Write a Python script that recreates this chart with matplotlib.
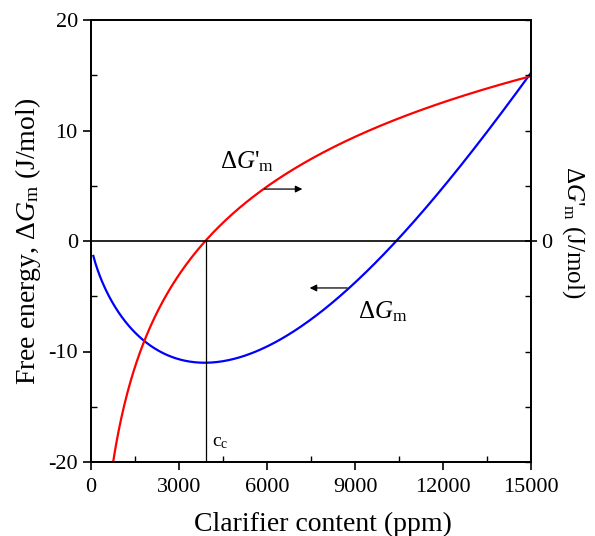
import numpy as np
import matplotlib
matplotlib.use('Agg')
import matplotlib.pyplot as plt
from matplotlib.ticker import MultipleLocator, FixedLocator, NullFormatter

plt.rcParams['font.family'] = ['Liberation Serif', 'DejaVu Serif']
plt.rcParams['mathtext.fontset'] = 'custom'
plt.rcParams['mathtext.rm'] = 'Liberation Serif'
plt.rcParams['mathtext.it'] = 'Liberation Serif:italic'
plt.rcParams['axes.unicode_minus'] = False

# values
# Delta G_m (blue, left axis)
x_gm = [80, 930, 1785, 2636, 3943, 5250, 6614, 7636, 8830, 10420, 11670, 12800, 13940, 15000]
y_gm = [-1.3, -6.55, -8.96, -10.3, -10.95, -10.4, -8.66, -6.85, -4.2, 0.0, 3.7, 7.6, 11.55, 15.1]
# Delta G'_m (red, right axis, same scale)
x_gp = [740, 1216, 1785, 2636, 3886, 4909, 5818, 7125, 8260, 10534, 12800, 15000]
y_gp = [-20.0, -14.7, -9.05, -4.1, 0.0, 2.35, 4.68, 6.9, 8.4, 10.95, 13.2, 15.1]
c_c = 3920


# least squares smoothing of the read points (x ln x like mixing term)
def basis(x):
    u = np.asarray(x, float) / 1e4
    return np.column_stack([np.ones_like(u), u, u**2, u**3, u * np.log(u)])

coef_b, *_ = np.linalg.lstsq(basis(x_gm), y_gm, rcond=None)
xb = np.linspace(x_gm[0], x_gm[-1], 400)
yb = basis(xb) @ coef_b

coef_r = np.polyfit(np.log(x_gp), y_gp, 3)
xr = np.linspace(x_gp[0], x_gp[-1], 400)
yr = np.polyval(coef_r, np.log(xr))

fig = plt.figure(figsize=(5.95, 5.36), dpi=100)
ax = fig.add_axes([91/595, 74/536, 440/595, 442/536])

ax.plot(xb, yb, color='blue', lw=1.6)
ax.plot(xr, yr, color='red', lw=1.6)

ax.axhline(0, color='black', lw=1.2)
ax.plot([c_c, c_c], [-20, 0], color='black', lw=0.9)
ax.text(c_c + 220, -18.6, r'c$_{\rm c}$', fontsize=14)

ax.text(4400, 6.6, r"$\Delta G$'$_{\rm m}$", fontsize=18)
ax.annotate('', xy=(7300, 4.7), xytext=(5820, 4.7),
            arrowprops=dict(arrowstyle='-|>', color='black', lw=0.9, mutation_scale=10))
ax.text(9100, -7.0, r'$\Delta G_{\rm m}$', fontsize=18)
ax.annotate('', xy=(7360, -4.25), xytext=(8830, -4.25),
            arrowprops=dict(arrowstyle='-|>', color='black', lw=0.9, mutation_scale=10))

ax.set_xlim(0, 15000)
ax.set_ylim(-20, 20)
ax.set_xticks([0, 3000, 6000, 9000, 12000, 15000])
ax.set_yticks([-20, -10, 0, 10, 20])
ax.xaxis.set_minor_locator(MultipleLocator(1500))
ax.yaxis.set_minor_locator(MultipleLocator(5))
ax.tick_params(which='major', direction='out', length=6, width=1.2, labelsize=16)
ax.tick_params(axis='x', which='major', pad=5.5)
ax.tick_params(which='minor', direction='in', length=4, width=1)
ax.tick_params(top=False, right=False, which='both')
for s in ax.spines.values():
    s.set_linewidth(1.3)

ax.set_xlabel('Clarifier content (ppm)', fontsize=20, labelpad=11)
ax.xaxis.label.set_x(0.527)
ax.set_ylabel(r'Free energy, $\Delta G_{\rm m}$ (J/mol)', fontsize=20, labelpad=4)

ax2 = ax.twinx()
ax2.set_ylim(-20, 20)
ax2.yaxis.set_major_locator(FixedLocator([0]))
ax2.yaxis.set_minor_locator(MultipleLocator(5))
ax2.yaxis.set_minor_formatter(NullFormatter())
ax2.tick_params(which='major', direction='inout', length=8, width=1.2, labelsize=16)
ax2.tick_params(which='minor', direction='in', length=4, width=1)
ax2.set_ylabel(r"$\Delta G$'$_{\rm m}$ (J/mol)", fontsize=18, rotation=270, labelpad=25)
ax2.yaxis.label.set_y(0.52)
for s in ax2.spines.values():
    s.set_linewidth(1.3)

fig.savefig('out.png', dpi=100)
